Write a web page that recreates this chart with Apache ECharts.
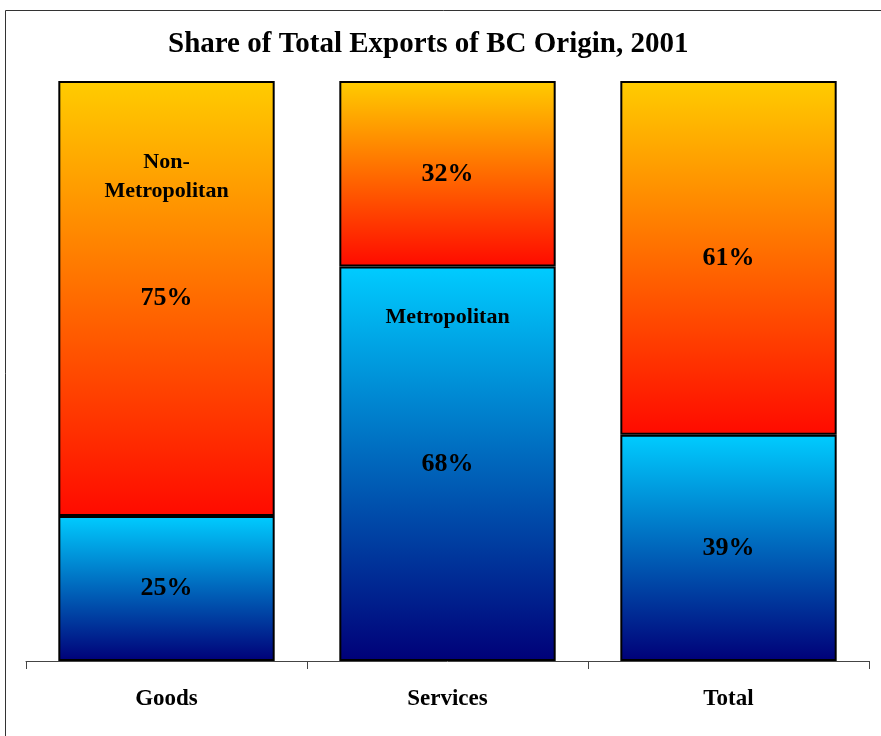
<!DOCTYPE html>
<html>
<head>
<meta charset="utf-8">
<title>Share of Total Exports of BC Origin, 2001</title>
<script src="https://cdn.jsdelivr.net/npm/echarts@6/dist/echarts.min.js"></script>
<style>
  html, body { margin: 0; padding: 0; background: #fff; }
  #chart { width: 881px; height: 736px; }
</style>
</head>
<body>
<div id="chart"></div>
<script>
// data (percent of total)
const categories = ['Goods', 'Services', 'Total'];
const metroShare = [25, 68, 39];
const nonMetroShare = [75, 32, 61];

// series name notes written inside one bar each
const notes = [
  { cat: 'Goods', text: 'Non-\nMetropolitan', at: 83.5 },
  { cat: 'Services', text: 'Metropolitan', at: 59.3 }
];

const serif = '"Times New Roman", "Liberation Serif", serif';

const chart = echarts.init(document.getElementById('chart'));

const segLabel = {
  show: true,
  position: 'inside',
  formatter: '{c}%',
  color: '#000',
  fontFamily: serif,
  fontWeight: 'bold',
  fontSize: 26
};

const option = {
  animation: false,
  title: {
    text: 'Share of Total Exports of BC Origin, 2001',
    left: 163,
    top: 25,
    textStyle: { fontFamily: serif, fontWeight: 'bold', fontSize: 29, color: '#000' }
  },
  graphic: [{
    type: 'rect',
    shape: { x: 5.5, y: 10.5, width: 1000, height: 1000 },
    style: { fill: 'none', stroke: '#333', lineWidth: 1 },
    silent: true
  }],
  grid: { left: 26, right: 12, top: 81, bottom: 75 },
  xAxis: {
    type: 'category',
    data: categories,
    axisLine: { lineStyle: { color: '#444', width: 1 } },
    axisTick: { show: true, length: 8, lineStyle: { color: '#444' } },
    axisLabel: { margin: 27, color: '#000', fontFamily: serif, fontWeight: 'bold', fontSize: 23 }
  },
  yAxis: { type: 'value', min: 0, max: 100, show: false, splitLine: { show: false } },
  series: [
    {
      name: 'Metropolitan',
      type: 'bar',
      stack: 'share',
      barWidth: '77%',
      data: metroShare,
      itemStyle: {
        borderColor: '#000',
        borderWidth: 2,
        color: new echarts.graphic.LinearGradient(0, 0, 0, 1, [
          { offset: 0, color: '#00ccff' },
          { offset: 1, color: '#000078' }
        ])
      },
      label: segLabel
    },
    {
      name: 'Non-Metropolitan',
      type: 'bar',
      stack: 'share',
      data: nonMetroShare,
      itemStyle: {
        borderColor: '#000',
        borderWidth: 2,
        color: new echarts.graphic.LinearGradient(0, 0, 0, 1, [
          { offset: 0, color: '#ffcc00' },
          { offset: 1, color: '#ff0a00' }
        ])
      },
      label: segLabel
    },
    {
      type: 'scatter',
      symbolSize: 0,
      silent: true,
      z: 5,
      itemStyle: { opacity: 1 },
      data: notes.map(n => ({ value: [n.cat, n.at], text: n.text })),
      label: {
        show: true,
        position: 'inside',
        formatter: p => p.data.text,
        color: '#000',
        opacity: 1,
        fontFamily: serif,
        fontWeight: 'bold',
        fontSize: 22,
        lineHeight: 29
      }
    }
  ]
};

chart.setOption(option);
</script>
</body>
</html>
